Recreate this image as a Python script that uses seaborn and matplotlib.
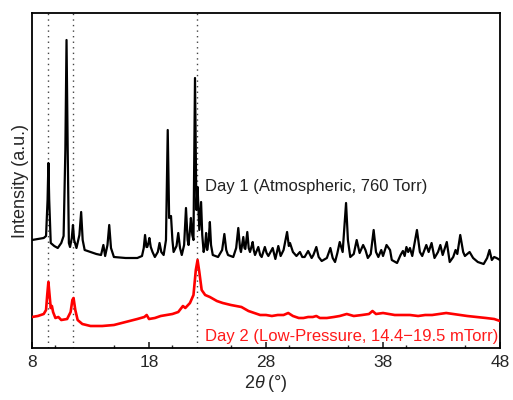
import matplotlib
matplotlib.use("Agg")
import matplotlib.pyplot as plt
from matplotlib.ticker import MultipleLocator
import seaborn as sns
import pandas as pd

# Day 1 pattern (atmospheric pressure): 2-theta in degrees, intensity in arbitrary units
two_theta_day1 = [
    8.0, 8.5, 9.0, 9.2, 9.33, 9.4, 9.47, 9.6, 9.9, 10.2, 10.5, 10.7, 10.85, 10.95, 11.05,
    11.15, 11.25, 11.4, 11.5, 11.6, 11.8, 12.05, 12.2, 12.33, 12.5, 13.0, 13.5, 13.9, 14.1,
    14.25, 14.45, 14.6, 14.75, 15.0, 16.0, 17.0, 17.4, 17.55, 17.66, 17.78, 17.85, 17.95,
    18.03, 18.15, 18.3, 18.5, 18.75, 18.9, 19.05, 19.25, 19.45, 19.6, 19.72, 19.88, 20.0,
    20.1, 20.35, 20.5, 20.65, 20.8, 21.0, 21.16, 21.3, 21.38, 21.5, 21.58, 21.7, 21.8,
    21.93, 22.05, 22.15, 22.3, 22.45, 22.55, 22.67, 22.8, 22.88, 22.97, 23.1, 23.2, 23.3,
    23.45, 23.9, 24.25, 24.44, 24.6, 24.75, 25.2, 25.45, 25.63, 25.78, 25.86, 26.06, 26.16,
    26.23, 26.4, 26.52, 26.63, 26.8, 26.86, 26.95, 27.06, 27.34, 27.5, 27.63, 27.9, 28.05,
    28.2, 28.57, 28.8, 29.05, 29.25, 29.5, 29.8, 29.95, 30.05, 30.3, 30.6, 30.9, 31.1, 31.3,
    31.6, 31.9, 32.05, 32.3, 32.5, 32.76, 33.2, 33.5, 33.7, 33.9, 34.1, 34.3, 34.55, 34.84,
    35.0, 35.2, 35.5, 35.75, 36.0, 36.3, 36.5, 36.7, 36.95, 37.2, 37.4, 37.6, 37.85, 38.0,
    38.3, 38.6, 38.75, 39.2, 39.5, 39.7, 39.85, 40.0, 40.15, 40.3, 40.5, 40.9, 41.15, 41.35,
    41.7, 41.9, 42.15, 42.4, 42.7, 42.9, 43.1, 43.45, 43.7, 44.0, 44.2, 44.35, 44.6, 44.85,
    45.0, 45.4, 45.7, 46.1, 46.6, 46.9, 47.1, 47.3, 47.5, 47.7, 48.0,
]
intensity_day1 = [
    108, 109, 110, 112, 148, 185, 148, 105, 102, 100, 105, 112, 198, 308, 198,
    105, 101, 110, 123, 108, 100, 113, 136, 108, 98, 96, 94, 93, 103,
    92, 103, 123, 100, 91, 90, 90, 92, 100, 113, 101, 101, 105,
    110, 101, 96, 91, 96, 105, 96, 93, 108, 218, 130, 132, 108,
    96, 102, 115, 100, 93, 103, 140, 108, 103, 118, 130, 113, 108,
    270, 138, 161, 118, 146, 113, 96, 103, 115, 98, 108, 126, 103,
    93, 91, 98, 114, 98, 93, 91, 100, 120, 100, 96, 111, 100,
    99, 116, 100, 96, 103, 106, 98, 93, 101, 93, 91, 101, 95,
    92, 100, 89, 102, 92, 98, 116, 102, 105, 96, 92, 96, 91, 91,
    97, 90, 93, 101, 91, 87, 90, 100, 90, 86, 95, 106, 96, 145,
    108, 91, 94, 108, 95, 103, 98, 90, 94, 118, 96, 91, 98, 92,
    103, 98, 88, 85, 93, 97, 92, 101, 96, 100, 92, 118, 96, 92,
    103, 96, 105, 90, 96, 103, 93, 106, 86, 91, 98, 94, 113, 96,
    92, 96, 90, 86, 84, 90, 98, 88, 91, 90, 88,
]

# Day 2 pattern (low pressure)
two_theta_day2 = [
    8.0, 8.5, 9.0, 9.2, 9.3, 9.4, 9.5, 9.6, 9.7, 9.8, 10.0, 10.25, 10.5, 11.0, 11.3, 11.45,
    11.55, 11.7, 11.9, 12.3, 13.0, 14.0, 15.0, 16.0, 17.0, 17.6, 17.8, 18.0, 18.5, 19.0,
    19.5, 20.0, 20.5, 20.9, 21.1, 21.5, 21.8, 22.0, 22.15, 22.3, 22.5, 22.8, 23.2, 23.8,
    24.3, 25.0, 25.9, 26.5, 27.0, 27.5, 28.0, 28.5, 29.0, 29.5, 29.9, 30.3, 30.8, 31.2,
    31.6, 32.0, 32.3, 32.6, 33.2, 33.8, 34.3, 34.9, 35.5, 36.2, 36.8, 37.1, 37.4, 38.0,
    38.5, 39.0, 39.7, 40.3, 41.0, 41.6, 42.2, 42.8, 43.4, 44.0, 44.6, 45.2, 46.0, 46.8,
    47.5, 48.0,
]
intensity_day2 = [
    31, 32, 34, 38, 53, 66, 53, 40, 42, 36, 30, 31, 28, 29, 36, 48,
    50, 38, 28, 24, 22, 22, 23, 26, 29, 31, 33, 29, 30, 32,
    33, 34, 36, 42, 40, 45, 53, 78, 88, 76, 58, 53, 51, 47,
    45, 43, 41, 37, 35, 33, 33, 32, 33, 33, 35, 32, 30, 30,
    31, 31, 32, 30, 30, 31, 32, 34, 32, 33, 34, 37, 34, 35,
    34, 33, 33, 33, 32, 33, 33, 34, 35, 34, 33, 32, 31, 30,
    29, 27,
]

# Reference reflections marked with dotted guide lines
guide_positions = [9.4, 11.5, 22.1]

x_ticks = [8, 18, 28, 38, 48]
label_day1 = "Day 1 (Atmospheric, 760 Torr)"
label_day2 = "Day 2 (Low-Pressure, 14.4\u221219.5 mTorr)"

sns.set_style("ticks")
plt.rcParams["font.family"] = ["Liberation Sans", "DejaVu Sans"]
plt.rcParams["mathtext.fontset"] = "custom"
plt.rcParams["mathtext.rm"] = "Liberation Sans"
plt.rcParams["mathtext.it"] = "Liberation Sans:italic"

fig = plt.figure(figsize=(5.13, 4.0), dpi=100)
ax = fig.add_axes([0.0624, 0.13, 0.9123, 0.8375])

df1 = pd.DataFrame({"two_theta": two_theta_day1, "intensity": intensity_day1})
df2 = pd.DataFrame({"two_theta": two_theta_day2, "intensity": intensity_day2})

for pos in guide_positions:
    ax.axvline(pos, color="#444444", lw=1.0, linestyle=(0, (1, 3)), zorder=1)

sns.lineplot(data=df1, x="two_theta", y="intensity", ax=ax, color="black",
             lw=1.6, sort=False, estimator=None, zorder=3)
sns.lineplot(data=df2, x="two_theta", y="intensity", ax=ax, color="#ff0000",
             lw=1.9, sort=False, estimator=None, zorder=3)

ax.text(22.8, 161, label_day1, fontsize=12, color="#222222", va="center", ha="left")
ax.text(22.8, 12, label_day2, fontsize=12, color="#ff1a1a", va="center", ha="left")

ax.set_xlim(8, 48)
ax.set_ylim(0, 335)
ax.set_xticks(x_ticks)
ax.xaxis.set_minor_locator(MultipleLocator(5))
ax.set_yticks([])
ax.tick_params(axis="x", which="major", direction="in", length=4, width=1.2,
               labelsize=12.5, pad=5, top=False)
ax.tick_params(axis="x", which="minor", direction="in", length=2.5, width=1.0, top=False)

for side in ["left", "right", "top", "bottom"]:
    ax.spines[side].set_visible(True)
    ax.spines[side].set_linewidth(1.3)
    ax.spines[side].set_color("black")

ax.set_xlabel("2$\\it{\\theta}$\u2009(°)", fontsize=13, labelpad=2)
ax.set_ylabel("Intensity (a.u.)", fontsize=13, labelpad=2)

fig.savefig("out.png", dpi=100)
